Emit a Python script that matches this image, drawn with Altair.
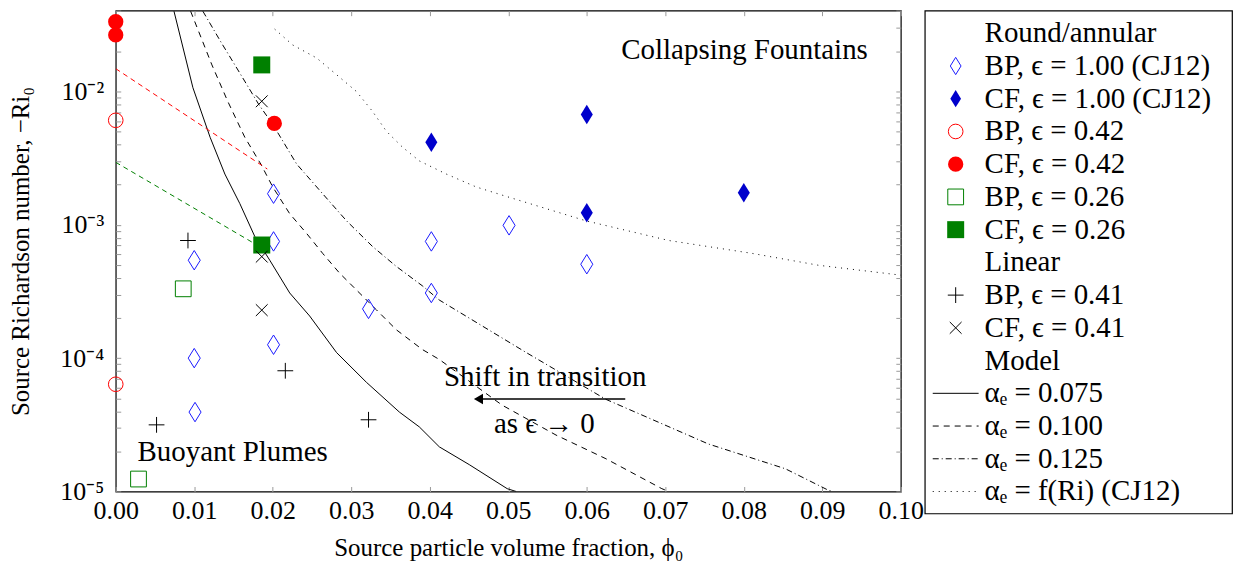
import altair as alt
import pandas as pd

FONT = "Liberation Serif"
FS_TICK = 26
FS_TEXT = 29

# ---------------- data ----------------
# Round/annular, epsilon = 1.00 (CJ12)
bp100_x = [0.0100, 0.0100, 0.0101, 0.0201, 0.0201, 0.0201, 0.0322, 0.0402, 0.0402, 0.0501, 0.0600]
bp100_y = [5.42e-4, 1.0e-4, 3.94e-5, 1.71e-3, 7.5e-4, 1.26e-4, 2.34e-4, 7.5e-4, 3.08e-4, 9.9e-4, 5.06e-4]
cf100_x = [0.0402, 0.0600, 0.0600, 0.0800]
cf100_y = [4.16e-3, 6.71e-3, 1.23e-3, 1.74e-3]
# epsilon = 0.42
bp042_x = [0.0, 0.0]
bp042_y = [6.07e-3, 6.37e-5]
cf042_x = [0.0, 0.0, 0.0202]
cf042_y = [0.0333, 0.0265, 5.75e-3]
# epsilon = 0.26
bp026_x = [0.0086, 0.0029]
bp026_y = [3.31e-4, 1.24e-5]
cf026_x = [0.0186, 0.0186]
cf026_y = [0.0158, 7.05e-4]
# Linear, epsilon = 0.41
linbp_x = [0.0092, 0.0052, 0.0216, 0.0322]
linbp_y = [7.62e-4, 3.16e-5, 8.04e-5, 3.45e-5]
lincf_x = [0.0186, 0.0186, 0.0186]
lincf_y = [8.43e-3, 5.77e-4, 2.29e-4]

# fitted trend lines (coloured dashed)
red_x = [0.0, 0.0193]
red_y = [0.0148, 2.62e-3]
green_x = [0.0, 0.0194]
green_y = [2.94e-3, 6.3e-4]

# model curves
m075_x = [0.00742, 0.00983, 0.01202, 0.01390, 0.01581, 0.01771, 0.01962, 0.02216, 0.02470,
          0.02813, 0.03194, 0.03613, 0.03867, 0.04122, 0.04503, 0.04986, 0.05100]
m075_y = [0.0399, 0.01066, 4.53e-3, 2.40e-3, 1.44e-3, 8.17e-4, 5.42e-4, 3.08e-4, 2.07e-4,
          1.10e-4, 6.58e-5, 3.94e-5, 3.05e-5, 2.16e-5, 1.59e-5, 1.05e-5, 1.0e-5]
m100_x = [0.00954, 0.01225, 0.01428, 0.01644, 0.01848, 0.0200, 0.02216, 0.02432, 0.02635, 0.02851,
          0.03067, 0.03321, 0.03575, 0.03906, 0.04122, 0.04922, 0.05608, 0.06244, 0.06956, 0.07045]
m100_y = [0.0399, 0.0158, 8.39e-3, 4.53e-3, 2.85e-3, 1.92e-3, 1.21e-3, 8.60e-4, 6.11e-4, 4.34e-4,
          3.24e-4, 2.30e-4, 1.63e-4, 1.16e-4, 9.77e-5, 4.44e-5, 2.65e-5, 1.76e-5, 1.05e-5, 1.0e-5]
m125_x = [0.0111, 0.01339, 0.01593, 0.01822, 0.0200, 0.02305, 0.02635, 0.0294, 0.0327, 0.0357,
          0.0391, 0.0412, 0.0523, 0.0624, 0.0755, 0.0853, 0.0908, 0.0914]
m125_y = [0.0399, 0.0235, 0.01334, 7.98e-3, 5.66e-3, 2.85e-3, 1.71e-3, 1.07e-3, 6.88e-4, 4.89e-4,
          3.47e-4, 2.73e-4, 1.10e-4, 4.92e-5, 2.27e-5, 1.48e-5, 1.02e-5, 1.0e-5]
mri_x = [0.02025, 0.02254, 0.02559, 0.02813, 0.03067, 0.03271, 0.03448, 0.03652, 0.03868,
         0.04211, 0.04592, 0.04948, 0.05990, 0.07045, 0.08100, 0.08951, 0.1000]
mri_y = [0.0293, 0.0223, 0.0178, 0.01334, 9.97e-3, 7.08e-3, 5.02e-3, 3.82e-3, 3.01e-3,
         2.40e-3, 1.92e-3, 1.65e-3, 1.07e-3, 7.62e-4, 6.11e-4, 4.97e-4, 4.19e-4]

# annotations
note_x = [0.0801, 0.0149, 0.0547, 0.0546]
note_y = [0.0205, 1.99e-5, 7.18e-5, 3.22e-5]
note_text = ["Collapsing Fountains", "Buoyant Plumes", "Shift in transition", "as ϵ → 0"]
arrow_x = [0.0649, 0.0462]
arrow_y = [4.94e-5, 4.94e-5]

# ticks
X_TICKS = [0.0, 0.01, 0.02, 0.03, 0.04, 0.05, 0.06, 0.07, 0.08, 0.09, 0.10]
Y_TICKS = [1e-5, 2e-5, 3e-5, 4e-5, 5e-5, 6e-5, 7e-5, 8e-5, 9e-5,
           1e-4, 2e-4, 3e-4, 4e-4, 5e-4, 6e-4, 7e-4, 8e-4, 9e-4,
           1e-3, 2e-3, 3e-3, 4e-3, 5e-3, 6e-3, 7e-3, 8e-3, 9e-3,
           1e-2, 2e-2, 3e-2, 4e-2]

# legend
LEG_ROWS = list(range(15))
LEG_LABELS = ["Round/annular", "BP, ϵ = 1.00 (CJ12)", "CF, ϵ = 1.00 (CJ12)",
              "BP, ϵ = 0.42", "CF, ϵ = 0.42", "BP, ϵ = 0.26", "CF, ϵ = 0.26",
              "Linear", "BP, ϵ = 0.41", "CF, ϵ = 0.41", "Model",
              "αₑ = 0.075", "αₑ = 0.100", "αₑ = 0.125", "αₑ = f(Ri)  (CJ12)"]

# ---------------- styles ----------------
DIAMOND = "M0,-1L0.62,0L0,1L-0.62,0Z"
PLUS = "M-1,0L1,0M0,-1L0,1"
CROSS = "M-1,-1L1,1M-1,1L1,-1"
BLUE_OPEN = "#1a1aff"
BLUE_FILL = "#0000cc"
RED = "#ff0000"
GREEN = "#008000"
TICK_COLOR = "#9a9a9a"

xs = alt.Scale(domain=[0, 0.1], nice=False, zero=False)
ys = alt.Scale(type="log", domain=[1e-5, 0.0403], nice=False)

LOGE = "log(datum.value)/LN10"
IS_MAJOR = f"abs({LOGE} - round({LOGE})) < 0.001"
LBL = (f"{IS_MAJOR} ? "
       f"(round({LOGE}) == -2 ? '10⁻²' : round({LOGE}) == -3 ? '10⁻³' : "
       f"round({LOGE}) == -4 ? '10⁻⁴' : '10⁻⁵') : ''")

axis_bottom = alt.Axis(orient="bottom", values=X_TICKS, format=".2f", offset=-5, tickSize=5,
                       tickColor=TICK_COLOR, domain=False, grid=False, labelFont=FONT,
                       labelFontSize=FS_TICK, labelColor="black", labelPadding=6, labelFlush=False,
                       labelOverlap=False, title="Source particle volume fraction, ϕ₀",
                       titleFont=FONT, titleFontSize=25, titleFontWeight="normal",
                       titleColor="black", titlePadding=12)
axis_left = alt.Axis(orient="left", values=Y_TICKS, labelExpr=LBL, offset=-5, tickSize=5,
                     tickColor=TICK_COLOR, domain=False, grid=False, labelFont=FONT,
                     labelFontSize={"condition": {"test": IS_MAJOR, "value": FS_TICK}, "value": 0},
                     labelColor="black", labelPadding=12, labelFlush=False,
                     labelOverlap=False, title="Source Richardson number, −Ri₀",
                     titleFont=FONT, titleFontSize=25, titleFontWeight="normal",
                     titleColor="black", titlePadding=26)
axis_top = alt.Axis(orient="top", values=X_TICKS, labels=False, offset=-5, tickSize=5,
                    tickColor=TICK_COLOR, domain=False, grid=False, title=None)
axis_right = alt.Axis(orient="right", values=Y_TICKS, labels=False, offset=-5, tickSize=5,
                      tickColor=TICK_COLOR, domain=False, grid=False, title=None)


def df_xy(xv, yv):
    return pd.DataFrame({"x": xv, "y": yv})


def enc_xy(xaxis=None, yaxis=None):
    return dict(x=alt.X("x:Q", scale=xs, axis=xaxis), y=alt.Y("y:Q", scale=ys, axis=yaxis))


def pts(xv, yv, shape, color, filled, size):
    return alt.Chart(df_xy(xv, yv)).mark_point(
        shape=shape, filled=filled, color=color, size=size, strokeWidth=1, opacity=1
    ).encode(**enc_xy())


def line(xv, yv, color, dash=None, width=1.0, xaxis=None, yaxis=None):
    kw = dict(color=color, strokeWidth=width, clip=True)
    if dash is not None:
        kw["strokeDash"] = dash
    return alt.Chart(df_xy(xv, yv)).mark_line(**kw).encode(**enc_xy(xaxis, yaxis))


DASH = [6, 5]
DASHDOT = [6, 3, 1, 3]
DOT = [1, 5]

layers = [
    line(m075_x, m075_y, "black", None, 1.0, axis_bottom, axis_left),
    line(m100_x, m100_y, "black", DASH, 1.0, axis_top, axis_right),
    line(m125_x, m125_y, "black", DASHDOT),
    line(mri_x, mri_y, "black", DOT),
    line(red_x, red_y, RED, [5, 4]),
    line(green_x, green_y, GREEN, [5, 4]),
    pts(bp100_x, bp100_y, DIAMOND, BLUE_OPEN, False, 380),
    pts(cf100_x, cf100_y, DIAMOND, BLUE_FILL, True, 380),
    pts(bp042_x, bp042_y, "circle", RED, False, 215),
    pts(cf042_x, cf042_y, "circle", RED, True, 235),
    pts(bp026_x, bp026_y, "square", GREEN, False, 250),
    pts(cf026_x, cf026_y, "square", GREEN, True, 290),
    pts(linbp_x, linbp_y, PLUS, "black", False, 250),
    pts(lincf_x, lincf_y, CROSS, "black", False, 140),
    alt.Chart(pd.DataFrame({"x": note_x, "y": note_y, "t": note_text})).mark_text(
        font=FONT, fontSize=FS_TEXT, color="black", align="center", baseline="middle"
    ).encode(text="t:N", **enc_xy()),
    line(arrow_x, arrow_y, "black", None, 1.6),
    alt.Chart(df_xy(arrow_x[1:], arrow_y[1:])).mark_point(
        shape="triangle-left", filled=True, color="black", size=110, opacity=1
    ).encode(**enc_xy()),
]

main = alt.layer(*layers).resolve_axis(x="independent", y="independent").properties(
    width=787, height=482
)

# ---------------- legend panel ----------------
leg_scale = alt.Scale(domain=[14.67, -0.69], nice=False, zero=False)
leg_df = pd.DataFrame({"row": LEG_ROWS, "label": LEG_LABELS})


def leg_y():
    return alt.Y("row:Q", scale=leg_scale, axis=None)


leg_text = alt.Chart(leg_df).mark_text(
    align="left", baseline="middle", font=FONT, fontSize=FS_TEXT, color="black"
).encode(x=alt.value(60), y=leg_y(), text="label:N")


def leg_pt(row, shape, color, filled, size):
    return alt.Chart(pd.DataFrame({"row": [row]})).mark_point(
        shape=shape, filled=filled, color=color, size=size, strokeWidth=1, opacity=1
    ).encode(x=alt.value(31), y=leg_y())


def leg_line(row, dash=None):
    kw = dict(color="black", strokeWidth=1)
    if dash is not None:
        kw["strokeDash"] = dash
    return alt.Chart(pd.DataFrame({"row": [row]})).mark_rule(**kw).encode(
        x=alt.value(8), x2=alt.value(54), y=leg_y()
    )


legend = alt.layer(
    leg_text,
    leg_pt(1, DIAMOND, BLUE_OPEN, False, 300),
    leg_pt(2, DIAMOND, BLUE_FILL, True, 300),
    leg_pt(3, "circle", RED, False, 215),
    leg_pt(4, "circle", RED, True, 235),
    leg_pt(5, "square", GREEN, False, 250),
    leg_pt(6, "square", GREEN, True, 290),
    leg_pt(8, PLUS, "black", False, 250),
    leg_pt(9, CROSS, "black", False, 140),
    leg_line(11),
    leg_line(12, DASH),
    leg_line(13, DASHDOT),
    leg_line(14, DOT),
).properties(width=308, height=504)

chart = alt.hconcat(main, legend, spacing=24, bounds="flush").properties(
    padding={"left": 0, "top": 0, "right": 0, "bottom": 0}
).configure_view(stroke="black", strokeWidth=1.2)

chart.save("out.html", embed_options={"renderer": "svg", "actions": False})
